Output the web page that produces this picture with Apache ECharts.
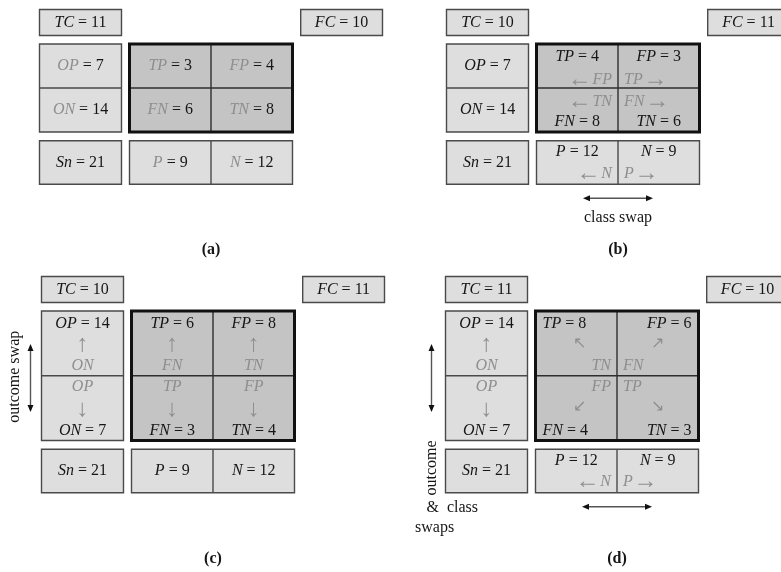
<!DOCTYPE html>
<html>
<head>
<meta charset="utf-8">
<script src="https://cdn.jsdelivr.net/npm/echarts@6/dist/echarts.min.js"></script>
<style>
  html, body { margin: 0; padding: 0; background: #ffffff; }
  #chart { width: 781px; height: 572px; }
</style>
</head>
<body>
<div id="chart"></div>
<script>
// Confusion-matrix counts for the four panels:
// (a) original, (b) class swap, (c) outcome swap, (d) outcome & class swaps
const panelNames = ['(a)', '(b)', '(c)', '(d)'];
const classSwapped = [false, true, false, true];
const outcomeSwapped = [false, false, true, true];
const tcCounts = [11, 10, 10, 11];
const fcCounts = [10, 11, 11, 10];
const opCounts = [7, 7, 14, 14];
const onCounts = [14, 14, 7, 7];
const snCounts = [21, 21, 21, 21];
const tpCounts = [3, 4, 6, 8];
const fpCounts = [4, 3, 8, 6];
const fnCounts = [6, 8, 3, 4];
const tnCounts = [8, 6, 4, 3];
const pCounts = [9, 12, 9, 12];
const nCounts = [12, 9, 12, 9];

// ---- layout (drawing units match the 781 x 572 canvas via the axes) ----
const panelOrigin = [[0, 0], [407, 0], [2, 267], [406, 267]];
const matrixHeight = [88, 88, 129.5, 129.5];

const SERIF = '"Liberation Serif", "Times New Roman", serif';
const FS = 16;
const INK = '#161616';
const GREY = '#8e8e8e';
const LIGHT = '#dedede';
const DARK = '#c4c4c4';
const EDGE = '#4a4a4a';

const rich = {
  v:  { font: `italic ${FS}px ${SERIF}`, fill: INK },
  vg: { font: `italic ${FS}px ${SERIF}`, fill: GREY },
  t:  { font: `${FS}px ${SERIF}`, fill: INK },
  tg: { font: `${FS}px ${SERIF}`, fill: GREY },
  sp: { font: `3px ${SERIF}`, fill: GREY },
  ar: { font: `24px ${SERIF}`, fill: GREY }
};

function eq(name, val, grey) {
  return `{${grey ? 'vg' : 'v'}|${name}}{t| = ${val}}`;
}
function gname(name) { return `{vg|${name}}`; }
function arrowGlyph(g) { return `{ar|${g}}`; }
function smallGlyph(g) { return `{tg|${g}}`; }
function leftOf(name) { return `{ar|\u2190}{sp| }{vg|${name}}`; }
function rightOf(name) { return `{vg|${name}}{sp| }{ar|\u2192}`; }

const shapes = [];
function rect(x0, y0, x1, y1, fill, stroke, lw) {
  shapes.push({ kind: 'rect', x0, y0, x1, y1, fill, stroke, lw });
}
function seg(x0, y0, x1, y1, stroke, lw) {
  shapes.push({ kind: 'line', x0, y0, x1, y1, stroke, lw });
}
function txt(x, y, text, align, opts) {
  shapes.push(Object.assign({ kind: 'text', x, y, text, align: align || 'center' }, opts || {}));
}
function darrow(x0, y0, x1, y1) {
  shapes.push({ kind: 'darrow', x0, y0, x1, y1 });
}

panelNames.forEach((name, p) => {
  const [ox, oy] = panelOrigin[p];
  const h = matrixHeight[p];
  const cs = classSwapped[p];
  const os = outcomeSwapped[p];
  const base = !cs && !os;

  const L0 = ox + 39.5, L1 = ox + 121.5, Lc = (L0 + L1) / 2;
  const M0 = ox + 129.5, Mm = ox + 211, M1 = ox + 292.5;
  const cL = (M0 + Mm) / 2, cR = (Mm + M1) / 2;
  const F0 = ox + 300.7, F1 = ox + 382.5;
  const y0 = oy + 9.5, y1 = oy + 35.5, yc = (y0 + y1) / 2;
  const T = oy + 44, B = T + h, mid = T + h / 2;
  const S0 = B + 8.7, S1 = B + 52.3, Sc = (S0 + S1) / 2;

  // boxes
  rect(L0, y0, L1, y1, LIGHT, EDGE, 1.4);
  rect(F0, y0, F1, y1, LIGHT, EDGE, 1.4);
  rect(L0, T, L1, B, LIGHT, EDGE, 1.4);
  seg(L0, mid, L1, mid, EDGE, 1.4);
  rect(M0, T, M1, B, DARK, null, 0);
  seg(Mm, T, Mm, B, '#2e2e2e', 1.4);
  seg(M0, mid, M1, mid, '#2e2e2e', 1.4);
  rect(M0, T, M1, B, null, '#111111', 3);
  rect(L0, S0, L1, S1, LIGHT, EDGE, 1.4);
  rect(M0, S0, M1, S1, LIGHT, EDGE, 1.4);
  seg(Mm, S0, Mm, S1, EDGE, 1.4);

  // totals
  txt(Lc, yc, eq('TC', tcCounts[p]));
  txt((F0 + F1) / 2, yc, eq('FC', fcCounts[p]));
  txt(Lc, Sc, eq('Sn', snCounts[p]));

  // outcome column
  if (!os) {
    txt(Lc, (T + mid) / 2, eq('OP', opCounts[p], base));
    txt(Lc, (mid + B) / 2, eq('ON', onCounts[p], base));
  } else {
    txt(Lc, T + 13, eq('OP', opCounts[p]));
    txt(Lc, T + 33.5, arrowGlyph('\u2191'));
    txt(Lc, T + 55, gname('ON'));
    txt(Lc, mid + 11, gname('OP'));
    txt(Lc, mid + 34, arrowGlyph('\u2193'));
    txt(Lc, B - 10, eq('ON', onCounts[p]));
  }

  // matrix cells
  if (base) {
    txt(cL, (T + mid) / 2, eq('TP', tpCounts[p], true));
    txt(cR, (T + mid) / 2, eq('FP', fpCounts[p], true));
    txt(cL, (mid + B) / 2, eq('FN', fnCounts[p], true));
    txt(cR, (mid + B) / 2, eq('TN', tnCounts[p], true));
  } else if (cs && !os) {
    txt(cL, T + 12.7, eq('TP', tpCounts[p]));
    txt(Mm - 6, T + 35.3, leftOf('FP'), 'right');
    txt(cR, T + 12.7, eq('FP', fpCounts[p]));
    txt(Mm + 6, T + 35.3, rightOf('TP'), 'left');
    txt(Mm - 6, mid + 13.7, leftOf('TN'), 'right');
    txt(cL, B - 10, eq('FN', fnCounts[p]));
    txt(Mm + 6, mid + 13.7, rightOf('FN'), 'left');
    txt(cR, B - 10, eq('TN', tnCounts[p]));
  } else if (os && !cs) {
    txt(cL, T + 13, eq('TP', tpCounts[p]));
    txt(cL, T + 33.5, arrowGlyph('\u2191'));
    txt(cL, T + 55, gname('FN'));
    txt(cR, T + 13, eq('FP', fpCounts[p]));
    txt(cR, T + 33.5, arrowGlyph('\u2191'));
    txt(cR, T + 55, gname('TN'));
    txt(cL, mid + 11, gname('TP'));
    txt(cL, mid + 34, arrowGlyph('\u2193'));
    txt(cL, B - 10, eq('FN', fnCounts[p]));
    txt(cR, mid + 11, gname('FP'));
    txt(cR, mid + 34, arrowGlyph('\u2193'));
    txt(cR, B - 10, eq('TN', tnCounts[p]));
  } else {
    txt(M0 + 7, T + 13, eq('TP', tpCounts[p]), 'left');
    txt(cL + 3, T + 33, smallGlyph('\u2196'));
    txt(Mm - 6, T + 55, gname('TN'), 'right');
    txt(M1 - 7, T + 13, eq('FP', fpCounts[p]), 'right');
    txt(cR, T + 33, smallGlyph('\u2197'));
    txt(Mm + 6, T + 55, gname('FN'), 'left');
    txt(Mm - 6, mid + 11, gname('FP'), 'right');
    txt(cL + 3, mid + 31, smallGlyph('\u2199'));
    txt(M0 + 7, B - 10, eq('FN', fnCounts[p]), 'left');
    txt(Mm + 6, mid + 11, gname('TP'), 'left');
    txt(cR, mid + 31, smallGlyph('\u2198'));
    txt(M1 - 7, B - 10, eq('TN', tnCounts[p]), 'right');
  }

  // class totals
  if (!cs) {
    txt(cL, Sc, eq('P', pCounts[p], base));
    txt(cR, Sc, eq('N', nCounts[p], base));
  } else {
    txt(cL, S0 + 11.4, eq('P', pCounts[p]));
    txt(Mm - 6, S0 + 33, leftOf('N'), 'right');
    txt(cR, S0 + 11.4, eq('N', nCounts[p]));
    txt(Mm + 6, S0 + 33, rightOf('P'), 'left');
  }

  // swap annotations
  if (cs) {
    darrow(Mm - 35, S1 + 14, Mm + 35, S1 + 14);
    if (!os) txt(Mm, S1 + 33, '{t|class swap}');
  }
  if (os && !cs) {
    darrow(ox + 28.5, T + 33, ox + 28.5, T + 101);
    txt(ox + 13, mid + 1, '{t|outcome swap}', 'center', { rot: Math.PI / 2 });
  }
  if (os && cs) {
    darrow(ox + 25.5, T + 33, ox + 25.5, T + 101);
    txt(ox + 25.5, Sc - 3, '{t|outcome}', 'center', { rot: Math.PI / 2 });
    txt(ox + 20.5, S1 + 14.5, '{t|&  class}', 'left');
    txt(ox + 9, S1 + 34.5, '{t|swaps}', 'left');
  }

  // panel caption
  txt(Mm, B + 118, name, 'center', { bold: true });
});

function renderItem(params, api) {
  const s = shapes[params.dataIndex];
  const P = (x, y) => api.coord([x, y]);
  if (s.kind === 'rect') {
    const a = P(s.x0, s.y0), b = P(s.x1, s.y1);
    return {
      type: 'rect',
      shape: { x: a[0], y: a[1], width: b[0] - a[0], height: b[1] - a[1] },
      style: { fill: s.fill || 'none', stroke: s.stroke || 'none', lineWidth: s.lw }
    };
  }
  if (s.kind === 'line') {
    const a = P(s.x0, s.y0), b = P(s.x1, s.y1);
    return {
      type: 'line',
      shape: { x1: a[0], y1: a[1], x2: b[0], y2: b[1] },
      style: { stroke: s.stroke, lineWidth: s.lw }
    };
  }
  if (s.kind === 'darrow') {
    const a = P(s.x0, s.y0), b = P(s.x1, s.y1);
    const dx = b[0] - a[0], dy = b[1] - a[1];
    const len = Math.hypot(dx, dy), ux = dx / len, uy = dy / len;
    const hl = 7, hw = 3;
    const head = (tip, dir) => {
      const bx = tip[0] - dir * ux * hl, by = tip[1] - dir * uy * hl;
      return {
        type: 'polygon',
        shape: { points: [tip, [bx - uy * hw, by + ux * hw], [bx + uy * hw, by - ux * hw]] },
        style: { fill: '#111111' }
      };
    };
    return {
      type: 'group',
      children: [
        {
          type: 'line',
          shape: { x1: a[0] + ux * 4, y1: a[1] + uy * 4, x2: b[0] - ux * 4, y2: b[1] - uy * 4 },
          style: { stroke: '#555555', lineWidth: 1.4 }
        },
        head(a, -1),
        head(b, 1)
      ]
    };
  }
  // text
  const a = P(s.x, s.y);
  return {
    type: 'text',
    x: a[0],
    y: a[1],
    rotation: s.rot || 0,
    style: {
      text: s.text,
      align: s.align,
      verticalAlign: 'middle',
      font: `${s.bold ? 'bold ' : ''}${FS}px ${SERIF}`,
      fill: INK,
      rich: rich
    }
  };
}

const chart = echarts.init(document.getElementById('chart'), null, { renderer: 'canvas' });
chart.setOption({
  animation: false,
  backgroundColor: '#ffffff',
  grid: { left: 0, right: 0, top: 0, bottom: 0 },
  xAxis: { type: 'value', min: 0, max: 781, show: false },
  yAxis: { type: 'value', min: 0, max: 572, inverse: true, show: false },
  series: [{
    type: 'custom',
    coordinateSystem: 'cartesian2d',
    clip: false,
    silent: true,
    data: shapes.map((s, i) => [i, 0]),
    renderItem: renderItem
  }]
});
</script>
</body>
</html>
